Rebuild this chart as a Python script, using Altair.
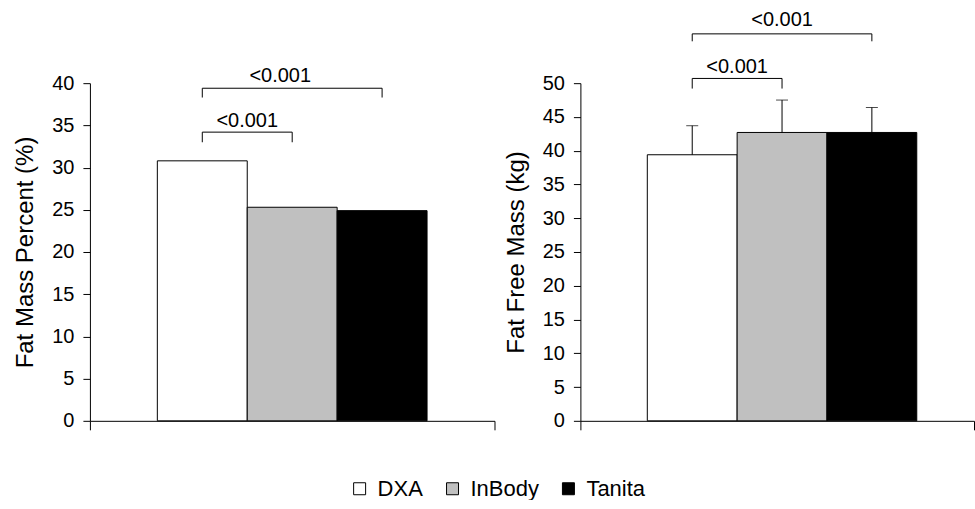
import altair as alt
import pandas as pd

methods = ["DXA", "InBody", "Tanita"]
colors = ["#ffffff", "#c0c0c0", "#000000"]

fat_pct = [30.8, 25.3, 24.9]
ffm = [39.4, 42.7, 42.7]
ffm_upper = [43.7, 47.5, 46.4]

br_from = ["DXA", "DXA"]
br_to = ["InBody", "Tanita"]
p_labels = ["<0.001", "<0.001"]

left_level = [34.2, 39.4]
left_drop = [33.0, 38.3]
left_text_y = [35.5, 40.8]

right_level = [50.7, 57.3]
right_drop = [49.2, 56.2]
right_text_y = [52.4, 59.3]

FONT = "Liberation Sans"


def panel(values, upper, ymax, title, width, pad_outer, align, level, drop, text_y, upper_dx):
    xscale = alt.Scale(domain=methods, paddingInner=0, paddingOuter=pad_outer, align=align)
    yscale = alt.Scale(domain=[0, ymax], nice=False, zero=True)
    yaxis = alt.Axis(values=list(range(0, ymax + 1, 5)), title=title, tickCount=ymax // 5 + 1,
                     labelOverlap=False)
    df = pd.DataFrame({"method": methods, "value": values})

    def Y(field):
        return alt.Y(field, scale=yscale, axis=yaxis)

    bars = alt.Chart(df).mark_bar(stroke="black", strokeWidth=1).encode(
        x=alt.X("method:N", scale=xscale, axis=None, sort=methods),
        y=Y("value:Q"),
        color=alt.Color(
            "method:N",
            scale=alt.Scale(domain=methods, range=colors),
            sort=methods,
            legend=alt.Legend(
                title=None, orient="none", direction="horizontal",
                legendX=259, legendY=395,
                symbolType="square", symbolSize=144,
                symbolStrokeColor="black", symbolStrokeWidth=1,
                symbolOpacity=1,
                labelFontSize=22, labelFont=FONT, labelColor="black",
                labelOffset=7, columnPadding=18,
            ),
        ),
    )
    layers = [bars]

    if upper is not None:
        edf = pd.DataFrame({"method": methods, "value": values, "upper": upper})
        err = alt.Chart(edf).mark_rule(color="black", strokeWidth=1).encode(
            x=alt.X("method:N", scale=xscale, axis=None, sort=methods),
            y=Y("value:Q"),
            y2="upper:Q",
        )
        cap = alt.Chart(edf).mark_tick(color="black", thickness=1, size=12, orient="horizontal").encode(
            x=alt.X("method:N", scale=xscale, axis=None, sort=methods),
            y=Y("upper:Q"),
        )
        layers += [err, cap]

    hdf = pd.DataFrame({"from": br_from, "to": br_to, "level": level})
    hline = alt.Chart(hdf).mark_rule(color="black", strokeWidth=1).encode(
        x=alt.X("from:N", scale=xscale, axis=None),
        x2="to:N",
        y=Y("level:Q"),
    )
    ends = []
    for f, t, lv, dr in zip(br_from, br_to, level, drop):
        ends.append({"end": f, "level": lv, "drop": dr})
        ends.append({"end": t, "level": lv, "drop": dr})
    vdf = pd.DataFrame(ends)
    vline = alt.Chart(vdf).mark_rule(color="black", strokeWidth=1).encode(
        x=alt.X("end:N", scale=xscale, axis=None),
        y=Y("drop:Q"),
        y2="level:Q",
    )
    t1 = pd.DataFrame({"anchor": [br_from[0]], "ty": [text_y[0]], "label": [p_labels[0]]})
    t2 = pd.DataFrame({"anchor": [br_to[0]], "ty": [text_y[1]], "label": [p_labels[1]]})
    txt1 = alt.Chart(t1).mark_text(fontSize=20, font=FONT, color="black", baseline="middle", align="center").encode(
        x=alt.X("anchor:N", scale=xscale, axis=None, bandPosition=1),
        y=Y("ty:Q"),
        text="label:N",
    )
    txt2 = alt.Chart(t2).mark_text(fontSize=20, font=FONT, color="black", baseline="middle", align="center", dx=upper_dx).encode(
        x=alt.X("anchor:N", scale=xscale, axis=None, bandPosition=0.5),
        y=Y("ty:Q"),
        text="label:N",
    )
    layers += [hline, vline, txt1, txt2]
    inner = alt.layer(*layers)

    axdf = pd.DataFrame({"g": ["all"]})
    axis_layer = alt.Chart(axdf).mark_point(opacity=0).encode(
        x=alt.X("g:N", scale=alt.Scale(paddingInner=0, paddingOuter=0),
                axis=alt.Axis(orient="bottom", labels=False, title=None, ticks=True,
                              tickBand="extent", tickSize=9, domainColor="black",
                              tickColor="black", grid=False)),
        y=alt.value(0),
    )
    return alt.layer(axis_layer, inner).resolve_scale(x="independent").properties(width=width, height=338)


left = panel(fat_pct, None, 40, "Fat Mass Percent (%)", 405, 0.75, 0.5,
             left_level, left_drop, left_text_y, -12)
right = panel(ffm, ffm_upper, 50, "Fat Free Mass (kg)", 394, 0.691, 0.539,
              right_level, right_drop, right_text_y, 0)

chart = alt.hconcat(left, right, spacing=8).properties(
    padding={"left": 13, "top": 10, "right": 0, "bottom": 0}
).configure_view(stroke=None).configure_axis(
    labelFont=FONT, titleFont=FONT, labelFontSize=20, titleFontSize=24,
    titleFontWeight="normal", labelColor="black", titleColor="black",
    domainColor="black", tickColor="black", tickSize=7, labelPadding=9,
    titlePadding=14, grid=False,
)

chart.save("out.html", embed_options={"renderer": "svg", "actions": False})
